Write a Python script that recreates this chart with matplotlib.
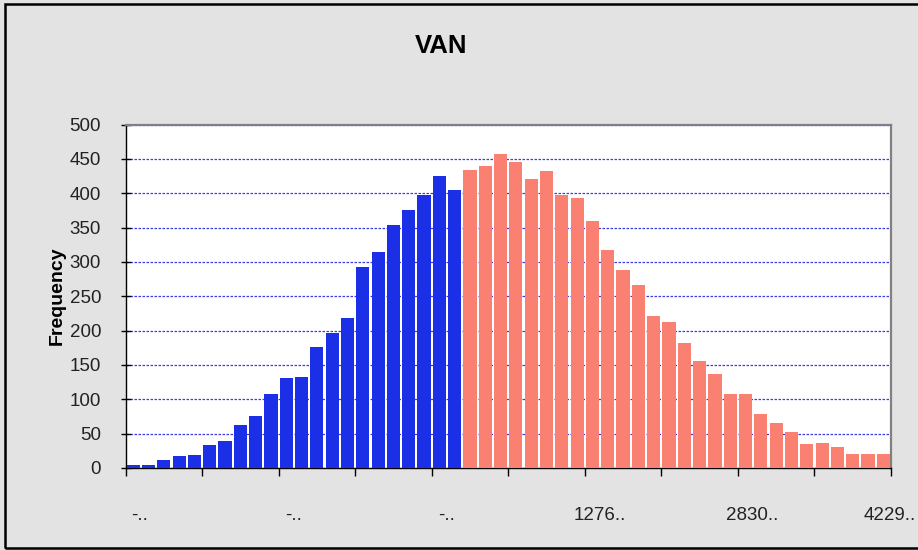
import matplotlib.pyplot as plt
from matplotlib.patches import Rectangle

plt.rcParams['font.family'] = ['Liberation Sans', 'DejaVu Sans']

# Histogram counts (50 bins)
blue_counts = [4, 4, 12, 18, 19, 34, 40, 62, 75, 107, 131, 133, 176, 196, 219,
               292, 314, 353, 376, 397, 425, 404]
red_counts = [434, 440, 457, 445, 421, 432, 397, 393, 360, 318, 288, 266, 221,
              212, 182, 156, 137, 107, 107, 79, 66, 53, 35, 36, 31, 21, 21, 21]

# Category labels shown on the x axis (truncated by the original chart)
label_bins = [0, 10, 20, 30, 40, 49]
label_texts = ['-..', '-..', '-..', '1276..', '2830..', '4229..']

y_ticks = list(range(0, 501, 50))

fig = plt.figure(figsize=(9.18, 5.5), dpi=100)
fig.patch.set_facecolor('#e3e3e3')

# outer frame
fig.patches.append(Rectangle((5 / 918, 2 / 550), 1.02, 544 / 550, transform=fig.transFigure,
                             fill=False, edgecolor='black', linewidth=1.8))

ax = fig.add_axes([125.5 / 918, 1 - 468 / 550, 765.5 / 918, 343.5 / 550])
ax.set_facecolor('white')

n_blue = len(blue_counts)
x_blue = list(range(n_blue))
x_red = list(range(n_blue, n_blue + len(red_counts)))
ax.bar(x_blue, blue_counts, width=0.86, color='#1a2fe6', linewidth=0, zorder=3)
ax.bar(x_red, red_counts, width=0.86, color='#fa8072', linewidth=0, zorder=3)

n = n_blue + len(red_counts)
ax.set_xlim(-0.5, n - 0.5)
ax.set_ylim(0, 500)

ax.set_yticks(y_ticks)
ax.yaxis.grid(True, color='#3a3ae8', linestyle=(0, (2, 1.2)), linewidth=0.9, zorder=1)
ax.tick_params(axis='y', direction='inout', length=7, width=1, pad=14,
               labelsize=13.5, labelcolor='#222222')

# tick marks at bin boundaries every 5 bins
ax.set_xticks([i - 0.5 for i in range(0, n + 1, 5)])
ax.set_xticklabels([])
ax.tick_params(axis='x', which='major', direction='out', length=6, width=1)
ax.set_xticks([b + 0.45 for b in label_bins], minor=True)
ax.set_xticklabels(label_texts, minor=True)
ax.tick_params(axis='x', which='minor', length=0, pad=28, labelsize=13.5,
               labelcolor='#222222')

for side in ['left', 'bottom']:
    ax.spines[side].set_color('black')
    ax.spines[side].set_linewidth(1)
for side in ['top', 'right']:
    ax.spines[side].set_color('#808080')
    ax.spines[side].set_linewidth(1.6)

fig.text(441 / 918, 1 - 46 / 550, 'VAN', ha='center', va='center',
         fontsize=18.5, fontweight='bold')
fig.text(57 / 918, 1 - 296 / 550, 'Frequency', ha='center', va='center',
         rotation=90, fontsize=14, fontweight='bold')

fig.savefig('out.png', dpi=100, facecolor=fig.get_facecolor())
